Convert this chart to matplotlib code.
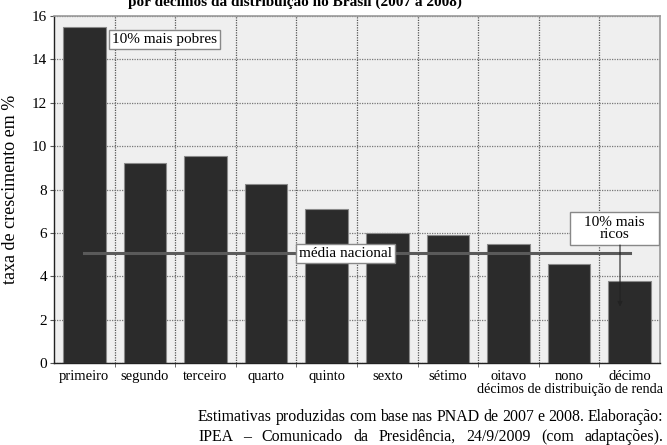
import matplotlib
matplotlib.use("Agg")
import matplotlib.pyplot as plt
from matplotlib.patches import Rectangle
import numpy as np

categories = ["primeiro", "segundo", "terceiro", "quarto", "quinto",
              "sexto", "sétimo", "oitavo", "nono", "décimo"]
values = [15.5, 9.2, 9.55, 8.25, 7.1, 6.0, 5.9, 5.5, 4.55, 3.8]
media_nacional = 5.05
yticks = [0, 2, 4, 6, 8, 10, 12, 14, 16]

plt.rcParams['font.family'] = ['Liberation Serif', 'DejaVu Serif']

fig = plt.figure(figsize=(6.67, 4.45), dpi=100)
ax = fig.add_axes([54/667, 1 - 363/445, 606/667, 347/445])
ax.set_facecolor('#efefef')

x = np.arange(len(categories))
ax.set_axisbelow(True)
ax.bar(x, values, width=0.7, color='#2b2b2b', edgecolor='#8a8a8a', linewidth=0.8, zorder=2)

ax.set_xlim(-0.5, len(categories) - 0.5)
ax.set_ylim(0, 16)
ax.set_yticks(yticks)
ax.set_yticklabels([str(t) for t in yticks], fontsize=11)
ax.set_xticks(x)
ax.set_xticklabels(categories, fontsize=10.5)
ax.set_xticks(np.arange(len(categories) - 1) + 0.5, minor=True)
ax.tick_params(axis='x', which='major', length=0, pad=5)
ax.tick_params(axis='x', which='minor', length=3, color='#555555')
ax.tick_params(axis='y', length=3, color='#555555', pad=2)

ax.yaxis.grid(True, linestyle=(0, (1, 1)), color='#777777', linewidth=0.9)
ax.xaxis.grid(True, which='minor', linestyle=(0, (1, 1)), color='#555555', linewidth=0.9)
ax.xaxis.grid(False, which='major')

for s in ['top', 'right']:
    ax.spines[s].set_color('#999999')
    ax.spines[s].set_linewidth(1.2)
for s in ['left', 'bottom']:
    ax.spines[s].set_color('#222222')
    ax.spines[s].set_linewidth(1.0)

# média nacional line
ax.plot([x[0], x[-1]], [media_nacional, media_nacional], color='#5a5a5a', linewidth=2.2, zorder=3)

box = dict(boxstyle='square,pad=0.2', facecolor='white', edgecolor='#888888', linewidth=1.0)
ax.text(0.45, 14.9, "10% mais pobres", fontsize=11, ha='left', va='center', bbox=box, zorder=5)
ax.text(3.55, media_nacional, "média nacional", fontsize=11, ha='left', va='center', bbox=box, zorder=5)

# "10% mais ricos" box (axes-fraction layout)
ax.add_patch(Rectangle((516/606, (363-245)/347), 89/606, 33/347, transform=ax.transAxes,
                       facecolor='white', edgecolor='#888888', linewidth=1.0, zorder=5))
ax.annotate("", xy=(8.84, 2.6), xytext=(8.84, 5.44),
            arrowprops=dict(arrowstyle='-|>', color='#222222', lw=0.8, mutation_scale=7,
                            shrinkA=0, shrinkB=0), zorder=6)
ax.text((516 + 44.5)/606, (363-228.5)/347, "10% mais\nricos", transform=ax.transAxes,
        fontsize=11, ha='center', va='center', linespacing=1.0, zorder=7)

ax.set_ylabel("taxa de crescimento em %", fontsize=13, labelpad=4)
ax.yaxis.set_label_coords(-(54-19)/606, 0.5)

fig.text(295/667, 1 - 6/445, "por décimos da distribuição no Brasil (2007 a 2008)",
         fontsize=11, fontweight='bold', ha='center', va='baseline')

fig.text(663/667, 1 - 390/445, "décimos de distribuição de renda", fontsize=10.2,
         ha='right', va='center')

# justified footer lines
renderer = fig.canvas.get_renderer()
left, right = 198/667, 663/667
footer = ["Estimativas produzidas com base nas PNAD de 2007 e 2008. Elaboração:",
          "IPEA – Comunicado da Presidência, 24/9/2009 (com adaptações)."]
for line, ypix in zip(footer, [417, 437]):
    words = line.split(" ")
    texts = [fig.text(0, 1 - ypix/445, w, fontsize=11.4, ha='left', va='center') for w in words]
    widths = [t.get_window_extent(renderer).width / (fig.get_figwidth() * fig.dpi) for t in texts]
    gap = (right - left - sum(widths)) / (len(words) - 1)
    pos = left
    for t, w in zip(texts, widths):
        t.set_x(pos)
        pos += w + gap

fig.savefig("out.png", dpi=100)
